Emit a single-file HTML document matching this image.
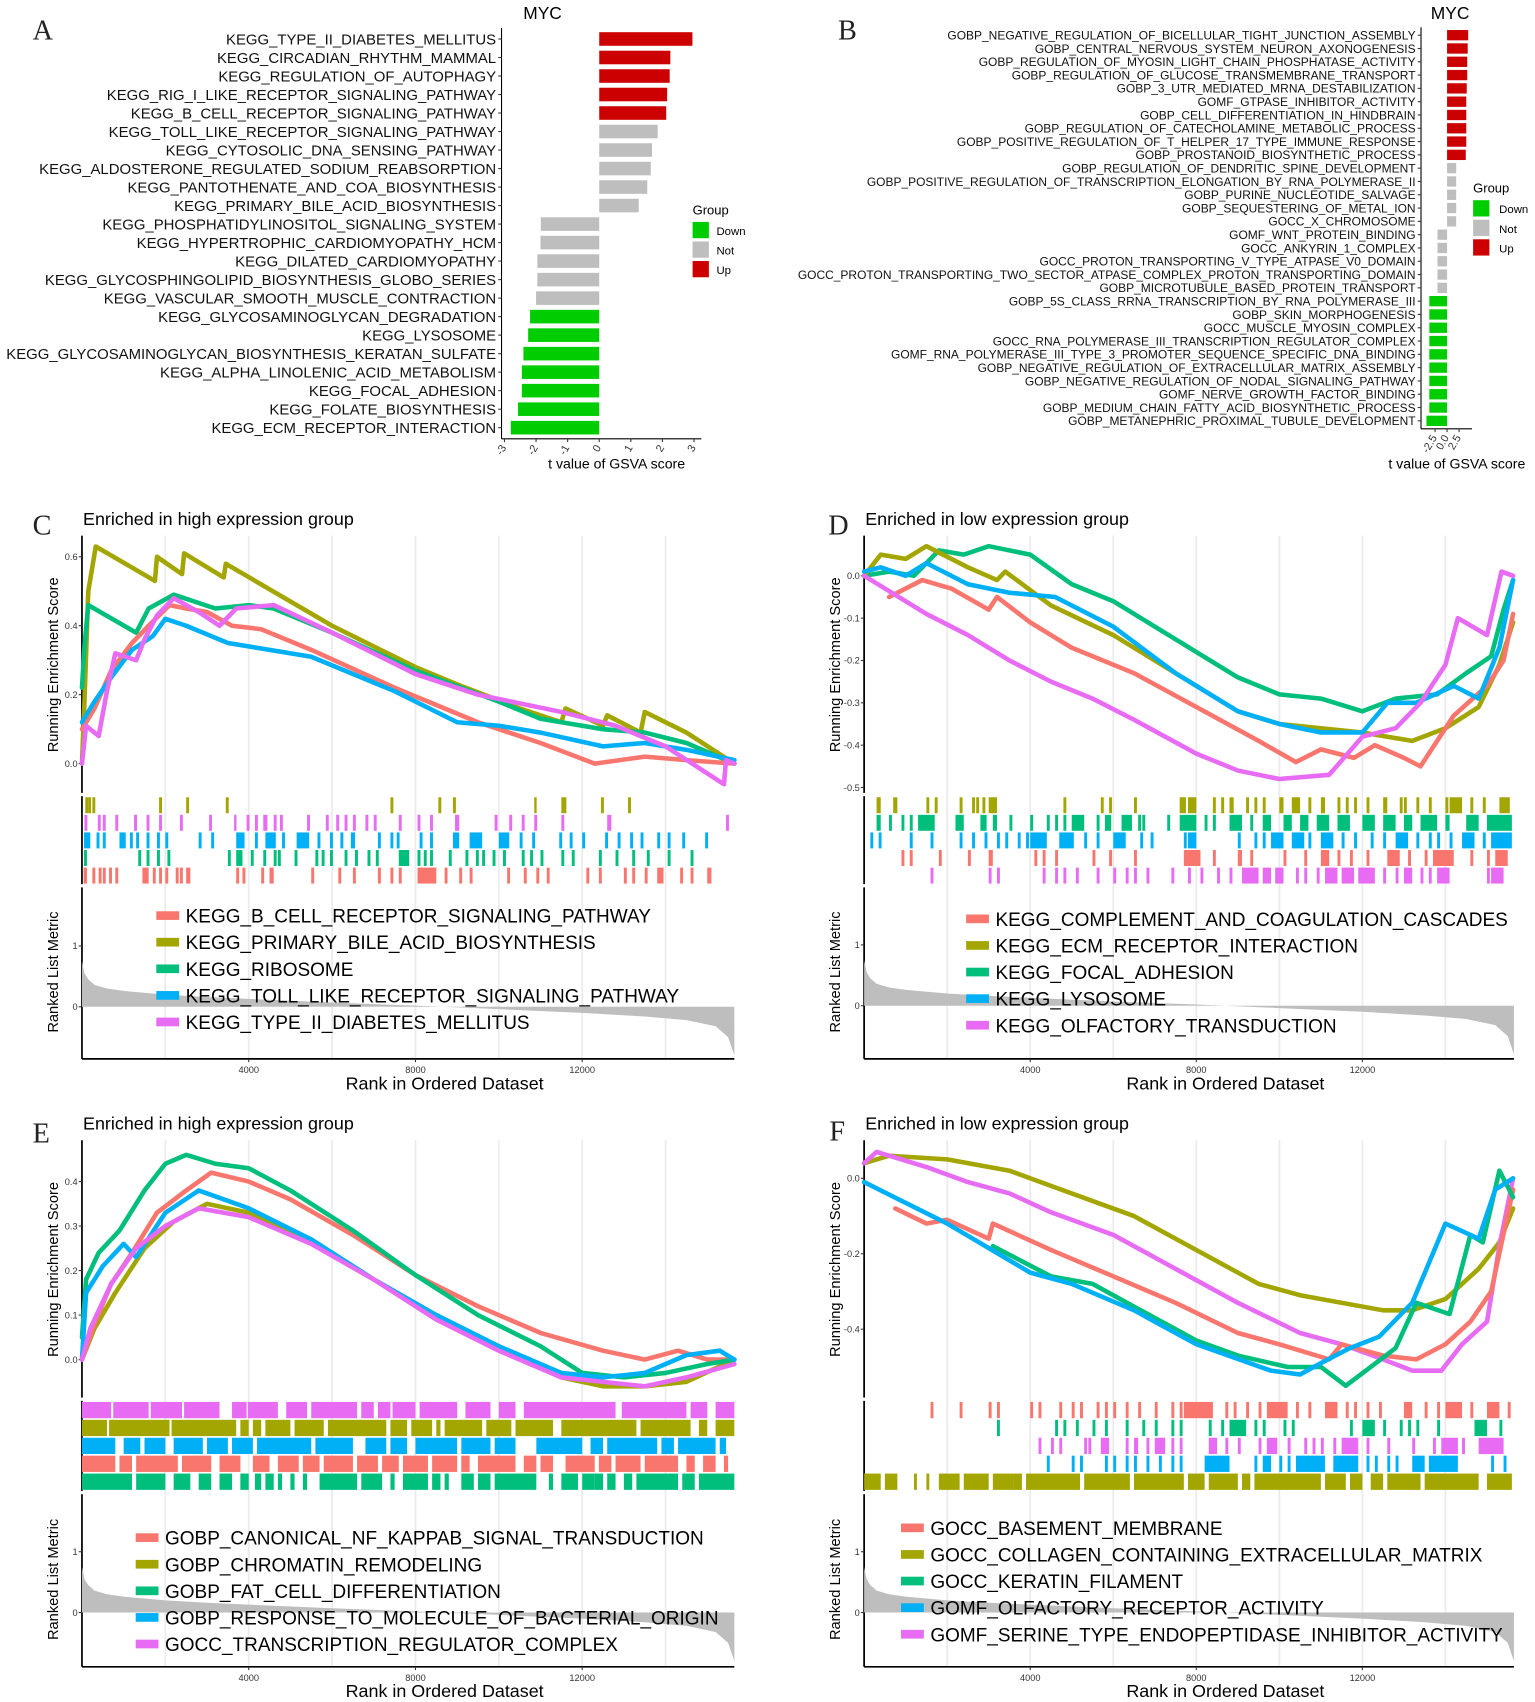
<!DOCTYPE html>
<html><head><meta charset="utf-8"><title>MYC GSVA / GSEA</title>
<style>
html,body{margin:0;padding:0;background:#fff;}
svg{display:block;font-family:"Liberation Sans",Arial,sans-serif;}
.serif{font-family:"Liberation Serif",serif;}
</style></head>
<body>
<svg id="fig" xmlns="http://www.w3.org/2000/svg" width="1535" height="1702" viewBox="0 0 1414 1567">
<rect x="0" y="0" width="1414" height="1567" fill="#fff"/>
</svg>
<script>
// ---------- Panel A data ----------
const A_labels = ["KEGG_TYPE_II_DIABETES_MELLITUS","KEGG_CIRCADIAN_RHYTHM_MAMMAL","KEGG_REGULATION_OF_AUTOPHAGY","KEGG_RIG_I_LIKE_RECEPTOR_SIGNALING_PATHWAY","KEGG_B_CELL_RECEPTOR_SIGNALING_PATHWAY","KEGG_TOLL_LIKE_RECEPTOR_SIGNALING_PATHWAY","KEGG_CYTOSOLIC_DNA_SENSING_PATHWAY","KEGG_ALDOSTERONE_REGULATED_SODIUM_REABSORPTION","KEGG_PANTOTHENATE_AND_COA_BIOSYNTHESIS","KEGG_PRIMARY_BILE_ACID_BIOSYNTHESIS","KEGG_PHOSPHATIDYLINOSITOL_SIGNALING_SYSTEM","KEGG_HYPERTROPHIC_CARDIOMYOPATHY_HCM","KEGG_DILATED_CARDIOMYOPATHY","KEGG_GLYCOSPHINGOLIPID_BIOSYNTHESIS_GLOBO_SERIES","KEGG_VASCULAR_SMOOTH_MUSCLE_CONTRACTION","KEGG_GLYCOSAMINOGLYCAN_DEGRADATION","KEGG_LYSOSOME","KEGG_GLYCOSAMINOGLYCAN_BIOSYNTHESIS_KERATAN_SULFATE","KEGG_ALPHA_LINOLENIC_ACID_METABOLISM","KEGG_FOCAL_ADHESION","KEGG_FOLATE_BIOSYNTHESIS","KEGG_ECM_RECEPTOR_INTERACTION"];
const A_values = [2.95,2.25,2.23,2.15,2.12,1.85,1.67,1.63,1.52,1.25,-1.85,-1.86,-1.96,-1.96,-2.0,-2.19,-2.25,-2.4,-2.45,-2.45,-2.57,-2.8];
const A_groups = ["Up","Up","Up","Up","Up","Not","Not","Not","Not","Not","Not","Not","Not","Not","Not","Down","Down","Down","Down","Down","Down","Down"];
const A_ticks = [-3,-2,-1,0,1,2,3];
// ---------- Panel B data ----------
const B_labels = ["GOBP_NEGATIVE_REGULATION_OF_BICELLULAR_TIGHT_JUNCTION_ASSEMBLY","GOBP_CENTRAL_NERVOUS_SYSTEM_NEURON_AXONOGENESIS","GOBP_REGULATION_OF_MYOSIN_LIGHT_CHAIN_PHOSPHATASE_ACTIVITY","GOBP_REGULATION_OF_GLUCOSE_TRANSMEMBRANE_TRANSPORT","GOBP_3_UTR_MEDIATED_MRNA_DESTABILIZATION","GOMF_GTPASE_INHIBITOR_ACTIVITY","GOBP_CELL_DIFFERENTIATION_IN_HINDBRAIN","GOBP_REGULATION_OF_CATECHOLAMINE_METABOLIC_PROCESS","GOBP_POSITIVE_REGULATION_OF_T_HELPER_17_TYPE_IMMUNE_RESPONSE","GOBP_PROSTANOID_BIOSYNTHETIC_PROCESS","GOBP_REGULATION_OF_DENDRITIC_SPINE_DEVELOPMENT","GOBP_POSITIVE_REGULATION_OF_TRANSCRIPTION_ELONGATION_BY_RNA_POLYMERASE_II","GOBP_PURINE_NUCLEOTIDE_SALVAGE","GOBP_SEQUESTERING_OF_METAL_ION","GOCC_X_CHROMOSOME","GOMF_WNT_PROTEIN_BINDING","GOCC_ANKYRIN_1_COMPLEX","GOCC_PROTON_TRANSPORTING_V_TYPE_ATPASE_V0_DOMAIN","GOCC_PROTON_TRANSPORTING_TWO_SECTOR_ATPASE_COMPLEX_PROTON_TRANSPORTING_DOMAIN","GOBP_MICROTUBULE_BASED_PROTEIN_TRANSPORT","GOBP_5S_CLASS_RRNA_TRANSCRIPTION_BY_RNA_POLYMERASE_III","GOBP_SKIN_MORPHOGENESIS","GOCC_MUSCLE_MYOSIN_COMPLEX","GOCC_RNA_POLYMERASE_III_TRANSCRIPTION_REGULATOR_COMPLEX","GOMF_RNA_POLYMERASE_III_TYPE_3_PROMOTER_SEQUENCE_SPECIFIC_DNA_BINDING","GOBP_NEGATIVE_REGULATION_OF_EXTRACELLULAR_MATRIX_ASSEMBLY","GOBP_NEGATIVE_REGULATION_OF_NODAL_SIGNALING_PATHWAY","GOMF_NERVE_GROWTH_FACTOR_BINDING","GOBP_MEDIUM_CHAIN_FATTY_ACID_BIOSYNTHETIC_PROCESS","GOBP_METANEPHRIC_PROXIMAL_TUBULE_DEVELOPMENT"];
const B_values = [4.4,4.3,4.2,4.2,4.1,4.0,4.0,4.0,4.0,3.9,1.9,1.9,1.9,1.9,1.9,-2.0,-2.0,-2.0,-2.0,-2.0,-3.7,-3.7,-3.7,-3.7,-3.7,-3.7,-3.7,-3.7,-3.7,-4.3];
const B_groups = ["Up","Up","Up","Up","Up","Up","Up","Up","Up","Up","Not","Not","Not","Not","Not","Not","Not","Not","Not","Not","Down","Down","Down","Down","Down","Down","Down","Down","Down","Down"];
const B_ticks = [-2.5,0,2.5];
const B_tickLabels = ["-2.5","0.0","2.5"];

// ---------- GSEA shared ranked metric ----------
const metricRanks = [0,60,150,300,600,1000,2000,3000,4000,6000,8000,10000,12000,13500,14500,15200,15500,15650];
const metricVals  = [0.75,0.55,0.45,0.36,0.3,0.26,0.2,0.16,0.13,0.07,0.02,-0.04,-0.1,-0.16,-0.22,-0.32,-0.5,-0.8];

// ---------- Panel C ES curves ----------
const C_bcell = [[0,0.10],[300,0.16],[700,0.27],[1200,0.35],[1600,0.40],[2100,0.46],[2500,0.45],[3000,0.44],[3600,0.40],[4300,0.39],[5500,0.33],[7500,0.22],[9500,0.12],[11000,0.06],[12300,0.0],[13500,0.02],[14500,0.01],[15650,0.0]];
const C_bile = [[0,0.0],[60,0.18],[150,0.50],[330,0.63],[1750,0.53],[1800,0.60],[2400,0.55],[2450,0.61],[3400,0.54],[3450,0.58],[6000,0.40],[8000,0.28],[9000,0.23],[10500,0.16],[11500,0.12],[11600,0.16],[12500,0.11],[12600,0.14],[13400,0.09],[13500,0.15],[14500,0.09],[15650,0.0]];
const C_ribo = [[0,0.22],[60,0.34],[150,0.46],[1300,0.38],[1600,0.45],[2200,0.49],[3200,0.45],[4000,0.46],[4600,0.45],[6000,0.38],[8000,0.27],[10000,0.18],[11000,0.13],[12500,0.10],[13500,0.09],[14500,0.06],[15650,0.0]];
const C_toll = [[0,0.12],[300,0.18],[700,0.25],[1200,0.33],[1700,0.37],[2000,0.42],[2500,0.40],[3500,0.35],[4500,0.33],[5500,0.31],[7500,0.21],[9000,0.12],[10000,0.11],[11000,0.09],[12500,0.05],[13500,0.06],[14500,0.04],[15650,0.01]];
const C_t2d = [[0,0.0],[100,0.11],[400,0.08],[600,0.21],[800,0.32],[1300,0.30],[1500,0.36],[1800,0.43],[2200,0.48],[2800,0.44],[3300,0.40],[3700,0.45],[4600,0.46],[6000,0.38],[8000,0.26],[9500,0.20],[11500,0.15],[12800,0.11],[14000,0.05],[15400,-0.06],[15450,0.01],[15650,0.0]];
// ---------- Panel D ES curves ----------
const D_compl = [[600,-0.05],[1400,-0.01],[2100,-0.03],[3000,-0.08],[3200,-0.05],[4000,-0.11],[5000,-0.17],[6500,-0.23],[8000,-0.31],[9500,-0.39],[10400,-0.44],[11000,-0.41],[11800,-0.43],[12300,-0.40],[13000,-0.43],[13400,-0.45],[14200,-0.33],[15000,-0.26],[15400,-0.20],[15630,-0.09]];
const D_ecm = [[0,0.0],[400,0.05],[1000,0.04],[1500,0.07],[2500,0.02],[3200,-0.01],[3400,0.01],[4500,-0.07],[6000,-0.14],[7500,-0.23],[9000,-0.32],[10000,-0.35],[11000,-0.36],[12000,-0.37],[13200,-0.39],[14000,-0.36],[14800,-0.31],[15300,-0.21],[15630,-0.11]];
const D_focal = [[0,0.0],[600,0.01],[1200,0.0],[1800,0.06],[2400,0.05],[3000,0.07],[4000,0.05],[5000,-0.02],[6000,-0.06],[7500,-0.15],[9000,-0.24],[10000,-0.28],[11000,-0.29],[12000,-0.32],[12800,-0.29],[13800,-0.28],[14500,-0.23],[15100,-0.19],[15400,-0.08],[15630,-0.01]];
const D_lyso = [[0,0.01],[400,0.02],[1000,0.0],[1500,0.03],[2500,-0.02],[3500,-0.04],[4600,-0.05],[6000,-0.12],[7500,-0.23],[9000,-0.32],[10000,-0.35],[11000,-0.37],[12000,-0.37],[12600,-0.30],[13300,-0.30],[14200,-0.26],[14800,-0.29],[15300,-0.17],[15630,-0.01]];
const D_olf = [[0,0.0],[1500,-0.09],[2500,-0.14],[3500,-0.2],[4500,-0.25],[5500,-0.29],[6500,-0.34],[8000,-0.42],[9000,-0.46],[10000,-0.48],[11200,-0.47],[12000,-0.38],[12800,-0.36],[13400,-0.30],[14000,-0.21],[14300,-0.10],[15000,-0.14],[15350,0.01],[15630,0.0]];
// ---------- Panel E ES curves ----------
const E_nfkb = [[0,0.0],[300,0.08],[700,0.17],[1200,0.24],[1800,0.33],[2500,0.38],[3100,0.42],[4000,0.40],[5000,0.36],[6500,0.28],[8000,0.19],[9500,0.12],[11000,0.06],[12500,0.02],[13500,0.0],[14300,0.02],[15000,0.0],[15650,0.0]];
const E_chrom = [[0,0.0],[300,0.07],[800,0.15],[1500,0.25],[2200,0.31],[3000,0.35],[4000,0.33],[5500,0.27],[7000,0.18],[8500,0.10],[10000,0.03],[11500,-0.04],[12500,-0.06],[13500,-0.06],[14500,-0.05],[15650,0.0]];
const E_fat = [[0,0.05],[100,0.18],[400,0.24],[900,0.29],[1500,0.38],[2000,0.44],[2500,0.46],[3200,0.44],[4000,0.43],[5000,0.38],[6500,0.29],[8000,0.19],[9500,0.10],[11000,0.03],[12000,-0.03],[13000,-0.04],[14000,-0.03],[15000,-0.01],[15650,0.0]];
const E_bact = [[0,0.0],[100,0.15],[500,0.21],[1000,0.26],[1300,0.23],[2000,0.33],[2800,0.38],[4000,0.34],[5500,0.27],[7000,0.18],[8500,0.10],[10000,0.03],[11500,-0.03],[12500,-0.04],[13500,-0.03],[14500,0.01],[15300,0.02],[15650,0.0]];
const E_trc = [[0,0.0],[200,0.07],[700,0.17],[1300,0.25],[2000,0.30],[2800,0.34],[4000,0.32],[5500,0.26],[7000,0.18],[8500,0.09],[10000,0.02],[11500,-0.04],[12500,-0.05],[13500,-0.06],[14500,-0.04],[15650,-0.01]];
// ---------- Panel F ES curves ----------
const F_base = [[750,-0.08],[1500,-0.12],[2000,-0.11],[3000,-0.16],[3100,-0.12],[4500,-0.19],[6000,-0.26],[7500,-0.33],[9000,-0.41],[10000,-0.44],[11200,-0.48],[11500,-0.44],[12500,-0.47],[13300,-0.48],[14000,-0.44],[14600,-0.38],[15100,-0.30],[15630,-0.03]];
const F_coll = [[0,0.04],[600,0.06],[2000,0.05],[3500,0.02],[4500,-0.02],[6500,-0.10],[8000,-0.19],[9500,-0.28],[10500,-0.31],[11500,-0.33],[12500,-0.35],[13200,-0.35],[14000,-0.32],[14800,-0.24],[15300,-0.17],[15630,-0.08]];
const F_kera = [[3100,-0.18],[4500,-0.26],[5500,-0.28],[6500,-0.34],[8000,-0.43],[9000,-0.47],[10200,-0.50],[11000,-0.50],[11600,-0.55],[12200,-0.50],[12800,-0.45],[13300,-0.33],[14100,-0.36],[14600,-0.15],[14900,-0.17],[15300,0.02],[15630,-0.05]];
const F_olfr = [[0,-0.01],[2000,-0.12],[4000,-0.25],[5000,-0.28],[6500,-0.35],[8000,-0.44],[9800,-0.51],[10500,-0.52],[11000,-0.49],[11700,-0.45],[12400,-0.42],[13200,-0.33],[14000,-0.12],[14800,-0.16],[15200,-0.03],[15630,0.0]];
const F_serine = [[0,0.04],[300,0.07],[1500,0.03],[2500,-0.01],[3500,-0.04],[4500,-0.09],[6000,-0.15],[7500,-0.24],[9000,-0.33],[10500,-0.41],[11500,-0.44],[12500,-0.48],[13200,-0.51],[13900,-0.51],[14400,-0.44],[15000,-0.38],[15300,-0.18],[15630,0.0]];

// ---------- Hit positions (single ranks or [start,end] runs) ----------
const C_hits_bile = [80,150,[250,320],1850,2500,3450,7400,8550,8900,[10850,10900],[11500,11620],12450,13100];
const C_hits_t2d = [60,380,500,800,1250,1550,1850,2350,3050,[3650,3700],3950,4150,[4350,4450],4600,4750,5400,5850,6100,6300,6500,6800,7000,7600,8050,8350,[8950,9050],9900,10250,10550,10850,11500,[12600,12700],15450];
const C_hits_toll = [[50,200],350,500,[900,1050],1150,1300,1550,1800,2000,2800,3100,[3700,3900],4150,[4400,4650],4800,[5150,5450],5650,5950,6200,[6450,6550],7100,7400,7550,8100,8350,[8900,9050],[9300,9600],[10000,10250],10500,10800,11450,11700,12000,12550,12850,13150,13400,13800,14050,14400,14950];
const C_hits_ribo = [[50,120],1350,1550,1800,2050,3500,[3700,3850],4050,4350,4600,4700,5100,5600,5750,5950,6300,6550,6850,7050,[7600,7850],8050,8200,8350,8800,9200,9450,9600,9850,10100,10550,10750,11000,11500,11750,12400,12800,13200,13550,14050,14600];
const C_hits_bcell = [[40,120],250,400,500,650,800,[1450,1600],1700,1850,2000,2250,2350,[2500,2600],3700,3850,4300,[4500,4600],5500,6150,6500,7100,7400,7600,8050,[8100,8500],8700,9050,9300,10200,10600,10900,11150,12100,12400,13000,13200,13500,[13800,13950],14350,14600,[15000,15100]];

const D_hits_ecm = [[300,400],[700,800],1500,1700,2300,2600,2700,2850,[3000,3200],4800,5700,5900,6500,[7600,7750],[7800,8000],8400,8600,[8800,8900],9200,9400,9600,[10000,10100],[10300,10500],10700,[11000,11100],11400,11600,11800,12100,[12500,12600],12900,13000,13300,13600,14000,[14100,14400],14600,14900,[15300,15550]];
const D_hits_focal = [[300,400],600,900,1100,[1300,1700],[2200,2400],[2800,2950],[3100,3200],3500,4000,4400,4600,4800,[5000,5300],5600,[5800,5950],[6200,6450],6600,6700,7300,[7600,8000],8200,8400,[8800,9100],9300,[9600,9800],[10100,10300],[10500,10700],[10900,11200],[11400,11700],[12000,12300],[12500,12800],[13000,13200],[13400,13800],[14000,14100],[14500,14800],[15000,15600]];
const D_hits_lyso = [150,350,1100,1600,2300,2600,2900,3200,3400,3700,3900,[4000,4400],[4700,5050],5300,5600,[6000,6300],6650,6900,7700,[7800,8000],9000,9400,9600,[9800,10100],[10300,10600],10700,[11000,11300],11500,11800,12200,12500,[12800,13100],13300,13600,13800,14100,[14400,14700],14900,[15100,15600]];
const D_hits_compl = [900,1100,1800,2500,[3000,3100],4100,4300,4600,5500,5900,6500,[7700,8100],8400,[9000,9100],9300,10100,10600,[11000,11200],11400,11700,12100,[12600,12900],13100,13500,[13700,14200],14600,15000,[15200,15500]];
const D_hits_olf = [1600,3000,3200,4300,4600,4800,5100,5600,6000,6300,6500,6800,7400,7800,8100,8500,8800,[9100,9500],[9600,9800],[9900,10100],10400,10600,10900,[11100,11400],[11500,11800],[11900,12300],12500,12800,[13000,13200],13400,13600,[13800,14100],15000,[15100,15400]];

const E_hits_trc = [[0,700],[750,1600],[1650,2400],[2450,3300],[3600,3950],[3980,4700],[4900,5400],[5500,6600],[6700,7000],[7100,7400],[7450,8000],[8100,9000],[9200,9800],[10000,10400],[10600,12800],[12950,14500],[14600,15000],[15200,15650]];
const E_hits_chrom = [[0,600],[650,2100],[2150,3700],[3800,4000],[4100,4300],[4400,5000],[5100,5800],[5900,7300],[7400,7800],[7900,8400],[8500,8600],[8700,9600],[9700,10300],[10400,11300],[11500,13300],[13400,14600],[14800,15000],[15200,15650]];
const E_hits_bact = [[0,800],[1000,1400],[1500,2000],[2200,2900],[3000,3500],[3600,4100],[4200,5500],[5600,6500],[6800,7300],[7400,7800],[8000,9000],[9100,9800],[9900,10400],[10900,12000],[12200,12500],[12600,13800],[13900,14200],[14300,15200],[15300,15450]];
const E_hits_nfkb = [[0,800],[900,1200],[1300,2300],[2400,3100],[3300,3800],[4100,4500],[4700,5200],[5300,5700],[5800,6500],[6600,7100],[7200,7600],[7700,8300],[8400,9000],[9100,9300],[9500,10400],[10600,10900],[11000,11300],[11600,12300],[12400,12700],[12800,13400],[13500,14300],[14500,14700],[14900,15200],[15400,15500]];
const E_hits_fat = [[0,1200],[1300,2000],[2200,2600],[2800,3100],[3300,3600],[3800,4000],[4150,4300],[4400,4600],[4700,4800],[5000,5100],[5300,5400],[5700,6600],[6700,7200],[7400,7500],[7700,8300],[8400,8600],[8700,8800],[9100,9400],[9500,9800],[9900,10900],[11200,11300],[11500,11900],[12000,12300],[12300,12500],[12600,12800],[13000,13200],[13300,14300],[14400,14700],[14800,15650]];

const F_hits_base = [1600,2300,3000,3200,4000,4200,4700,5000,5200,5600,5800,6000,6300,6600,7000,7400,7600,[7700,8400],8700,8900,9200,9500,[9700,10200],10400,10700,[11100,11400],11600,11800,12100,12400,[13000,13200],13500,13800,[14000,14400],14600,[15000,15300],15500];
const F_hits_kera = [3200,4600,4800,5100,5500,5800,6300,6700,7000,7400,7600,8300,8600,[8800,9200],9400,9600,10100,10300,11700,[12000,12300],12500,12900,13100,13300,13800,[14700,15000],15300];
const F_hits_olfr = [4200,4500,4700,5300,5400,[5700,5900],6300,[6500,6600],6800,[7000,7250],7400,7600,[8300,8500],8700,9000,9500,[9700,9950],10200,10600,10800,11000,11300,[11500,11900],12100,12600,13200,13700,[13900,14300],14400,[14800,15400]];
const F_hits_olf = [4400,5000,5200,5800,6000,6300,6500,6800,7100,7400,7600,[8200,8800],9400,[9600,9800],10000,10200,[10400,11100],[11300,11900],12100,12300,12600,12800,[13200,13500],[13600,14300],15100,15400];
const F_hits_coll = [[0,400],[500,800],1200,1500,[1800,2300],[2400,3000],[3100,3600],[3600,3800],[3900,5200],[5300,6400],[6500,7700],[7800,8200],[8300,9000],[9100,9300],[9400,11000],[11100,11600],[11700,12000],[12200,12500],[12600,13400],[13500,14800],[15000,15600]];

// ---------- rendering ----------
const NS = "http://www.w3.org/2000/svg";
const svg = document.getElementById('fig');
function mk(tag, attrs, parent) {
  const e = document.createElementNS(NS, tag);
  for (const k in attrs) e.setAttribute(k, attrs[k]);
  (parent || svg).appendChild(e);
  return e;
}
function txt(s, attrs, parent) { const t = mk('text', attrs, parent); t.textContent = s; return t; }
const GROUPCOL = {Down: "#00CD00", Not: "#BEBEBE", Up: "#CD0000"};

[["A",30,36],["B",772,36],["C",30,492],["D",763,492],["E",30,1052],["F",764,1050]].forEach(function(L){
  const t = txt(L[0], {x: L[1], y: L[2], 'font-size': 26, 'class': 'serif', fill: '#222'});
  
  
});

function barChart(cfg, labels, values, groups, ticks, tickLabels) {
  const g = mk('g', {});
  
  
  const xs = function(v){ return cfg.zeroX + v * cfg.unit; };
  const n = labels.length;
  const rowY = function(i){ return cfg.y0 + i * cfg.step; };
  const tt = txt("MYC", {x: cfg.mycX, y: 17, 'font-size': 16, fill: '#000'}, g);
  
  
  const bottom = rowY(n - 1) + cfg.step * 0.6;
  const ya = mk('line', {x1: cfg.axisX, y1: cfg.y0 - cfg.step * 0.6, x2: cfg.axisX, y2: bottom, stroke: '#000', 'stroke-width': 1}, g);
  
  
  const xa = mk('line', {x1: cfg.axisX, y1: bottom, x2: cfg.axisEnd, y2: bottom, stroke: '#000', 'stroke-width': 1}, g);
  
  
  for (let i = 0; i < n; i++) {
    const y = rowY(i);
    const v = values[i];
    const r = mk('rect', {x: Math.min(xs(0), xs(v)), y: y - cfg.barH / 2, width: Math.abs(xs(v) - xs(0)), height: cfg.barH, fill: GROUPCOL[groups[i]]}, g);
    
    
    mk('line', {x1: cfg.axisX - 3, y1: y, x2: cfg.axisX, y2: y, stroke: '#333'}, g);
    const l = txt(labels[i], {x: cfg.axisX - 5, y: y + cfg.fs * 0.36, 'font-size': cfg.fs, 'text-anchor': 'end', fill: '#111'}, g);
    
    
  }
  ticks.forEach(function(t, i){
    const x = xs(t);
    mk('line', {x1: x, y1: bottom, x2: x, y2: bottom + 3, stroke: '#333'}, g);
    const lab = txt(tickLabels ? tickLabels[i] : String(t), {x: x + 2, y: bottom + 8, 'font-size': 10, 'text-anchor': 'end', fill: '#333', transform: 'rotate(-60 ' + (x + 2) + ' ' + (bottom + 8) + ')'}, g);
    
    
  });
  const at = txt("t value of GSVA score", {x: cfg.titleX, y: cfg.titleY, 'font-size': 13, 'text-anchor': 'middle', fill: '#000'}, g);
  
  
  const lg = mk('g', {}, g);
  
  
  txt("Group", {x: cfg.legX, y: cfg.legY, 'font-size': 12, fill: '#000'}, lg);
  ["Down", "Not", "Up"].forEach(function(k, i){
    const yy = cfg.legY + 7 + i * 18;
    const b = mk('rect', {x: cfg.legX, y: yy, width: 15, height: 15, fill: GROUPCOL[k]}, lg);
    
    
    txt(k, {x: cfg.legX + (cfg.legTX || 22), y: yy + 12, 'font-size': 10.5, fill: '#000'}, lg);
  });
}

barChart({name: 'panel-a-bar-chart', zeroX: 552, unit: 29.1, axisX: 462, axisEnd: 646, y0: 35.5, step: 17.05, barH: 12.5, fs: 13.75, mycX: 482, titleX: 568, titleY: 431, legX: 638, legY: 197}, A_labels, A_values, A_groups, A_ticks, null);
barChart({name: 'panel-b-bar-chart', zeroX: 1333, unit: 4.42, axisX: 1309, axisEnd: 1356, y0: 32, step: 12.25, barH: 9.5, fs: 11.05, mycX: 1318, titleX: 1342, titleY: 431, legX: 1357, legY: 177, legTX: 24}, B_labels, B_values, B_groups, B_ticks, B_tickLabels);

const COLS = {red: "#F8766D", olive: "#A3A500", green: "#00BF7D", blue: "#00B0F6", magenta: "#E76BF3"};

function gsea(cfg) {
  const g = mk('g', {});
  
  
  const xs = function(r){ return cfg.x0 + r * cfg.k; };
  const ys = function(e){ return cfg.es0 - e * cfg.esScale; };
  const ym = function(m){ return cfg.m0 - m * cfg.mScale; };
  for (let r = 2000; r <= 14000; r += 2000) {
    const gl = mk('line', {x1: xs(r), y1: cfg.top, x2: xs(r), y2: cfg.bottom, stroke: '#ebebeb', 'stroke-width': 1.6}, g);
    
    
  }
  const tt = txt(cfg.title, {x: cfg.x0 + 1, y: cfg.top - 10, 'font-size': 16.5, fill: '#000'}, g);
  
  
  const ya = mk('line', {x1: cfg.x0, y1: cfg.top, x2: cfg.x0, y2: cfg.bottom, stroke: '#000', 'stroke-width': 1.6}, g);
  
  
  mk('line', {x1: cfg.x0, y1: cfg.bottom, x2: xs(15650), y2: cfg.bottom, stroke: '#000', 'stroke-width': 1.6}, g);
  mk('rect', {x: cfg.x0 - 2, y: cfg.sep1 - 1, width: 4, height: 3, fill: '#fff'}, g);
  mk('rect', {x: cfg.x0 - 2, y: cfg.sep2 - 1, width: 4, height: 3, fill: '#fff'}, g);
  cfg.esTicks.forEach(function(t){
    const y = ys(t);
    mk('line', {x1: cfg.x0 - 3, y1: y, x2: cfg.x0, y2: y, stroke: '#333'}, g);
    const l = txt(t.toFixed(1), {x: cfg.x0 - 4, y: y + 3, 'font-size': 8.5, 'text-anchor': 'end', fill: '#333'}, g);
    
    
  });
  const yt = txt("Running Enrichment Score", {x: 0, y: 0, 'font-size': 13.5, 'text-anchor': 'middle', fill: '#000', transform: 'translate(' + (cfg.x0 - 22) + ',' + ((cfg.top + cfg.sep1) / 2) + ') rotate(-90)'}, g);
  
  
  let d = 'M' + xs(metricRanks[0]) + ',' + ym(0);
  for (let i = 0; i < metricRanks.length; i++) d += ' L' + xs(metricRanks[i]).toFixed(1) + ',' + ym(metricVals[i]).toFixed(1);
  d += ' L' + xs(metricRanks[metricRanks.length - 1]) + ',' + ym(0) + ' Z';
  const ar = mk('path', {d: d, fill: '#BEBEBE', stroke: 'none'}, g);
  
  
  [0, 1].forEach(function(t){
    const y = ym(t);
    mk('line', {x1: cfg.x0 - 3, y1: y, x2: cfg.x0, y2: y, stroke: '#333'}, g);
    txt(String(t), {x: cfg.x0 - 4, y: y + 3, 'font-size': 8.5, 'text-anchor': 'end', fill: '#333'}, g);
  });
  const mt = txt("Ranked List Metric", {x: 0, y: 0, 'font-size': 13.5, 'text-anchor': 'middle', fill: '#000', transform: 'translate(' + (cfg.x0 - 22) + ',' + ((cfg.sep2 + cfg.bottom) / 2) + ') rotate(-90)'}, g);
  
  
  [4000, 8000, 12000].forEach(function(r){
    mk('line', {x1: xs(r), y1: cfg.bottom, x2: xs(r), y2: cfg.bottom + 3, stroke: '#333'}, g);
    const l = txt(String(r), {x: xs(r), y: cfg.bottom + 13, 'font-size': 8.5, 'text-anchor': 'middle', fill: '#333'}, g);
    
    
  });
  const rt = txt("Rank in Ordered Dataset", {x: xs(8700), y: cfg.bottom + 28, 'font-size': 16.5, 'text-anchor': 'middle', fill: '#000'}, g);
  
  
  cfg.hitRows.forEach(function(row, i){
    const y = cfg.hitTop + i * cfg.rowH;
    row.hits.forEach(function(h){
      const a = Array.isArray(h) ? h[0] : h;
      const b = Array.isArray(h) ? h[1] : h + 70;
      const r = mk('rect', {x: xs(a), y: y, width: Math.max(2.2, xs(b) - xs(a)), height: cfg.rowH - 1.5, fill: COLS[row.col]}, g);
      
      
    });
  });
  cfg.series.forEach(function(s){
    let p = '';
    s.pts.forEach(function(pt, i){ p += (i ? ' L' : 'M') + xs(pt[0]).toFixed(1) + ',' + ys(pt[1]).toFixed(1); });
    const c = mk('path', {d: p, fill: 'none', stroke: COLS[s.col], 'stroke-width': 4.2, 'stroke-linejoin': 'round', 'stroke-linecap': 'round'}, g);
    
    
  });
  const lg = mk('g', {}, g);
  
  
  cfg.legend.forEach(function(s, i){
    const y = cfg.legY + i * 24.5;
    const k = mk('rect', {x: cfg.legX, y: y - 4, width: 21, height: 8, fill: COLS[s.col]}, lg);
    
    
    const t = txt(s.label, {x: cfg.legX + 27, y: y + 6.5, 'font-size': 17.5, fill: '#000'}, lg);
    
    
  });
}

gsea({name: 'panel-c-gsea', title: 'Enriched in high expression group', x0: 75.5, k: 0.0384, top: 493, sep1: 731, sep2: 815, bottom: 975,
  es0: 703, esScale: 317.5, esTicks: [0, 0.2, 0.4, 0.6], m0: 927, mScale: 56, hitTop: 734, rowH: 16.2,
  hitRows: [{col: 'olive', hits: C_hits_bile}, {col: 'magenta', hits: C_hits_t2d}, {col: 'blue', hits: C_hits_toll}, {col: 'green', hits: C_hits_ribo}, {col: 'red', hits: C_hits_bcell}],
  series: [{col: 'olive', label: 'KEGG_PRIMARY_BILE_ACID_BIOSYNTHESIS', pts: C_bile}, {col: 'green', label: 'KEGG_RIBOSOME', pts: C_ribo}, {col: 'red', label: 'KEGG_B_CELL_RECEPTOR_SIGNALING_PATHWAY', pts: C_bcell}, {col: 'blue', label: 'KEGG_TOLL_LIKE_RECEPTOR_SIGNALING_PATHWAY', pts: C_toll}, {col: 'magenta', label: 'KEGG_TYPE_II_DIABETES_MELLITUS', pts: C_t2d}],
  legX: 144, legY: 843,
  legend: [{col: 'red', label: 'KEGG_B_CELL_RECEPTOR_SIGNALING_PATHWAY'}, {col: 'olive', label: 'KEGG_PRIMARY_BILE_ACID_BIOSYNTHESIS'}, {col: 'green', label: 'KEGG_RIBOSOME'}, {col: 'blue', label: 'KEGG_TOLL_LIKE_RECEPTOR_SIGNALING_PATHWAY'}, {col: 'magenta', label: 'KEGG_TYPE_II_DIABETES_MELLITUS'}]});

gsea({name: 'panel-d-gsea', title: 'Enriched in low expression group', x0: 796, k: 0.03825, top: 493, sep1: 731, sep2: 815, bottom: 975,
  es0: 530, esScale: 390, esTicks: [0, -0.1, -0.2, -0.3, -0.4, -0.5], m0: 926, mScale: 56, hitTop: 734, rowH: 16.2,
  hitRows: [{col: 'olive', hits: D_hits_ecm}, {col: 'green', hits: D_hits_focal}, {col: 'blue', hits: D_hits_lyso}, {col: 'red', hits: D_hits_compl}, {col: 'magenta', hits: D_hits_olf}],
  series: [{col: 'green', label: 'KEGG_FOCAL_ADHESION', pts: D_focal}, {col: 'olive', label: 'KEGG_ECM_RECEPTOR_INTERACTION', pts: D_ecm}, {col: 'red', label: 'KEGG_COMPLEMENT_AND_COAGULATION_CASCADES', pts: D_compl}, {col: 'blue', label: 'KEGG_LYSOSOME', pts: D_lyso}, {col: 'magenta', label: 'KEGG_OLFACTORY_TRANSDUCTION', pts: D_olf}],
  legX: 890, legY: 846,
  legend: [{col: 'red', label: 'KEGG_COMPLEMENT_AND_COAGULATION_CASCADES'}, {col: 'olive', label: 'KEGG_ECM_RECEPTOR_INTERACTION'}, {col: 'green', label: 'KEGG_FOCAL_ADHESION'}, {col: 'blue', label: 'KEGG_LYSOSOME'}, {col: 'magenta', label: 'KEGG_OLFACTORY_TRANSDUCTION'}]});

gsea({name: 'panel-e-gsea', title: 'Enriched in high expression group', x0: 75.5, k: 0.0384, top: 1050, sep1: 1288, sep2: 1374, bottom: 1535,
  es0: 1252, esScale: 410, esTicks: [0, 0.1, 0.2, 0.3, 0.4], m0: 1485, mScale: 56, hitTop: 1291, rowH: 16.5,
  hitRows: [{col: 'magenta', hits: E_hits_trc}, {col: 'olive', hits: E_hits_chrom}, {col: 'blue', hits: E_hits_bact}, {col: 'red', hits: E_hits_nfkb}, {col: 'green', hits: E_hits_fat}],
  series: [{col: 'olive', label: 'GOBP_CHROMATIN_REMODELING', pts: E_chrom}, {col: 'red', label: 'GOBP_CANONICAL_NF_KAPPAB_SIGNAL_TRANSDUCTION', pts: E_nfkb}, {col: 'green', label: 'GOBP_FAT_CELL_DIFFERENTIATION', pts: E_fat}, {col: 'blue', label: 'GOBP_RESPONSE_TO_MOLECULE_OF_BACTERIAL_ORIGIN', pts: E_bact}, {col: 'magenta', label: 'GOCC_TRANSCRIPTION_REGULATOR_COMPLEX', pts: E_trc}],
  legX: 125, legY: 1416,
  legend: [{col: 'red', label: 'GOBP_CANONICAL_NF_KAPPAB_SIGNAL_TRANSDUCTION'}, {col: 'olive', label: 'GOBP_CHROMATIN_REMODELING'}, {col: 'green', label: 'GOBP_FAT_CELL_DIFFERENTIATION'}, {col: 'blue', label: 'GOBP_RESPONSE_TO_MOLECULE_OF_BACTERIAL_ORIGIN'}, {col: 'magenta', label: 'GOCC_TRANSCRIPTION_REGULATOR_COMPLEX'}]});

gsea({name: 'panel-f-gsea', title: 'Enriched in low expression group', x0: 796, k: 0.03825, top: 1050, sep1: 1288, sep2: 1374, bottom: 1535,
  es0: 1085, esScale: 347.5, esTicks: [0, -0.2, -0.4], m0: 1485, mScale: 56, hitTop: 1291, rowH: 16.5,
  hitRows: [{col: 'red', hits: F_hits_base}, {col: 'green', hits: F_hits_kera}, {col: 'magenta', hits: F_hits_olfr}, {col: 'blue', hits: F_hits_olf}, {col: 'olive', hits: F_hits_coll}],
  series: [{col: 'olive', label: 'GOCC_COLLAGEN_CONTAINING_EXTRACELLULAR_MATRIX', pts: F_coll}, {col: 'magenta', label: 'GOMF_SERINE_TYPE_ENDOPEPTIDASE_INHIBITOR_ACTIVITY', pts: F_serine}, {col: 'red', label: 'GOCC_BASEMENT_MEMBRANE', pts: F_base}, {col: 'green', label: 'GOCC_KERATIN_FILAMENT', pts: F_kera}, {col: 'blue', label: 'GOMF_OLFACTORY_RECEPTOR_ACTIVITY', pts: F_olfr}],
  legX: 830, legY: 1407,
  legend: [{col: 'red', label: 'GOCC_BASEMENT_MEMBRANE'}, {col: 'olive', label: 'GOCC_COLLAGEN_CONTAINING_EXTRACELLULAR_MATRIX'}, {col: 'green', label: 'GOCC_KERATIN_FILAMENT'}, {col: 'blue', label: 'GOMF_OLFACTORY_RECEPTOR_ACTIVITY'}, {col: 'magenta', label: 'GOMF_SERINE_TYPE_ENDOPEPTIDASE_INHIBITOR_ACTIVITY'}]});
</script>
</body></html>
